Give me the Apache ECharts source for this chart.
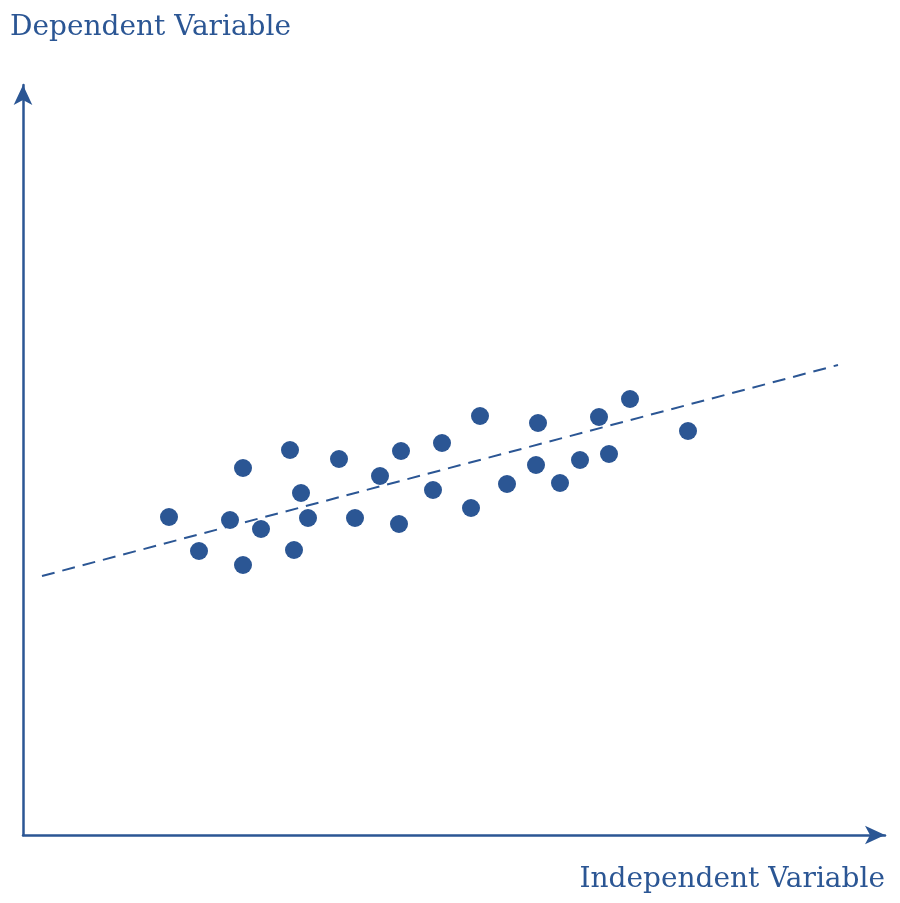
<!DOCTYPE html>
<html>
<head>
<meta charset="utf-8">
<script src="https://cdn.jsdelivr.net/npm/echarts@6/dist/echarts.min.js"></script>
<style>html,body{margin:0;padding:0;background:#fff}#c{width:900px;height:903px}</style>
</head>
<body>
<div id="c"></div>
<script>
const xLabel = "Independent Variable";
const yLabel = "Dependent Variable";
const xValues = [146,176,207,220,220,238,267,278,285,271,316,332,357,378,376,419,410,457,448,484,515,513,537,557,576,586,607,665];
const yValues = [318,284,315,367,270,306,385,342,317,285,376,317,359,384,311,392,345,419,327,351,412,370,352,375,418,381,436,404];
const trendX = [19, 815];
const trendY = [259, 470];
const color = '#2b5694';

const chart = echarts.init(document.getElementById('c'), null, {renderer:'canvas'});
chart.setOption({
  animation: false,
  backgroundColor: '#fff',
  grid: {left: 23, right: 15, top: 85, bottom: 68, containLabel: false},
  xAxis: {
    type: 'value', min: 0, max: 862,
    axisLine: {show: true, symbol: ['none','arrow'], symbolSize: [14, 20], lineStyle: {color: color, width: 2.5}},
    axisTick: {show: false}, axisLabel: {show: false}, splitLine: {show: false}
  },
  yAxis: {
    type: 'value', min: 0, max: 750,
    axisLine: {show: true, symbol: ['none','arrow'], symbolSize: [14, 20], lineStyle: {color: color, width: 2.5}},
    axisTick: {show: false}, axisLabel: {show: false}, splitLine: {show: false}
  },
  graphic: [
    {type: 'text', left: 10, top: 14, style: {text: yLabel, fill: color, font: '28px "DejaVu Serif"'}},
    {type: 'text', right: 15, top: 866, style: {text: xLabel, fill: color, font: '28px "DejaVu Serif"'}}
  ],
  series: [
    {
      type: 'line', data: trendX.map((x, i) => [x, trendY[i]]), showSymbol: false, symbol: 'none',
      lineStyle: {color: color, width: 2, type: [13, 8]}, z: 1
    },
    {
      type: 'scatter', data: xValues.map((x, i) => [x, yValues[i]]), symbolSize: 18,
      itemStyle: {color: color, opacity: 1}, z: 2
    }
  ]
});
</script>
</body>
</html>
